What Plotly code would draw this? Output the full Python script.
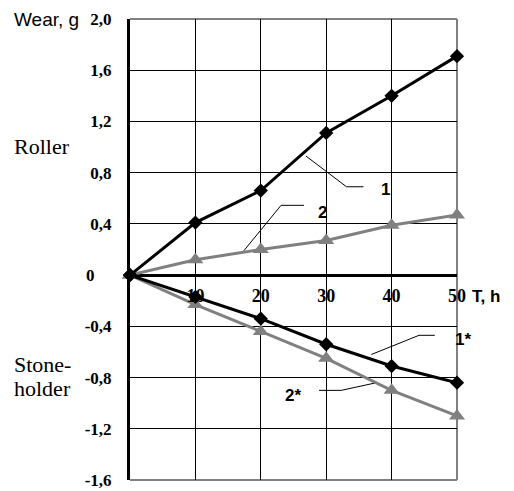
import plotly.graph_objects as go

# ---- data ----
time_h = [0, 10, 20, 30, 40, 50]
roller_1 = [0, 0.41, 0.66, 1.11, 1.40, 1.71]
roller_2 = [0, 0.12, 0.20, 0.27, 0.39, 0.47]
stone_1s = [0, -0.17, -0.34, -0.54, -0.71, -0.84]
stone_2s = [0, -0.23, -0.44, -0.65, -0.90, -1.10]

x_ticks = [10, 20, 30, 40, 50]
x_ticktext = ["10", "20", "30", "40", "50"]
y_ticks = [-1.6, -1.2, -0.8, -0.4, 0, 0.4, 0.8, 1.2, 1.6, 2.0]
y_ticktext = ["-1,6", "-1,2", "-0,8", "-0,4", "0\u00a0\u00a0\u00a0\u00a0", "0,4", "0,8", "1,2", "1,6", "2,0"]

# leader lines for curve labels (label anchor geometry)
leader_1 = ([26.9, 33.1, 35.7], [0.93, 0.69, 0.69])
leader_2 = ([17.4, 23.1, 26.6], [0.19, 0.545, 0.545])
leader_1s = ([36.9, 44.2, 46.6], [-0.62, -0.47, -0.47])
leader_2s = ([37.7, 32.3, 28.9], [-0.84, -0.90, -0.90])

BLACK = "#000000"
GRAY = "#808080"
SERIF = "Liberation Serif, Times New Roman, serif"
SANS = "Liberation Sans, Arial, sans-serif"

fig = go.Figure()

for lx, ly in [leader_1, leader_2, leader_1s, leader_2s]:
    fig.add_trace(go.Scatter(x=lx, y=ly, mode="lines", line=dict(color=BLACK, width=1),
                             hoverinfo="skip", showlegend=False, cliponaxis=False))

fig.add_trace(go.Scatter(x=time_h, y=roller_2, mode="lines+markers",
                         line=dict(color=GRAY, width=3), cliponaxis=False,
                         marker=dict(symbol="triangle-up", size=14, color=GRAY), showlegend=False))
fig.add_trace(go.Scatter(x=time_h, y=stone_2s, mode="lines+markers",
                         line=dict(color=GRAY, width=3), cliponaxis=False,
                         marker=dict(symbol="triangle-up", size=14, color=GRAY), showlegend=False))
fig.add_trace(go.Scatter(x=time_h, y=roller_1, mode="lines+markers",
                         line=dict(color=BLACK, width=3), cliponaxis=False,
                         marker=dict(symbol="diamond", size=11, color=BLACK), showlegend=False))
fig.add_trace(go.Scatter(x=time_h, y=stone_1s, mode="lines+markers",
                         line=dict(color=BLACK, width=3), cliponaxis=False,
                         marker=dict(symbol="diamond", size=11, color=BLACK), showlegend=False))

serif_b = dict(family=SERIF, size=17, color=BLACK, weight="bold")
sans_b = dict(family=SANS, size=17, color=BLACK, weight="bold")

fig.update_xaxes(range=[0, 50], tickvals=x_ticks, ticktext=["<b>%s</b>" % t for t in x_ticktext],
                 showgrid=True, gridcolor=BLACK, gridwidth=1,
                 zeroline=False, showline=False, ticks="", automargin=False,
                 anchor="free", position=1.6 / 3.6, ticklabelstandoff=8,
                 tickfont=dict(family=SERIF, size=18, color=BLACK, weight="bold"))
fig.update_yaxes(range=[-1.6, 2.0], tickvals=y_ticks, ticktext=["<b>%s</b>" % t for t in y_ticktext],
                 showgrid=True, gridcolor=BLACK, gridwidth=1,
                 zeroline=True, zerolinecolor=BLACK, zerolinewidth=3,
                 showline=True, linecolor=BLACK, linewidth=3, automargin=False,
                 ticks="", ticklabelstandoff=12, tickfont=serif_b)

# gray frame on top / right / bottom
for x0, y0, x1, y1 in [(0, 1, 1, 1), (1, 0, 1, 1), (0, 0, 1, 0)]:
    fig.add_shape(type="line", xref="paper", yref="paper", x0=x0, y0=y0, x1=x1, y1=y1,
                  line=dict(color=GRAY, width=2), layer="between")

PW = 327.0
PH = 461.0
def px(xp):
    return (xp - 130) / PW
def py(yp):
    return (480 - yp) / PH

ann = []
ann.append(dict(text="Wear, g", xref="paper", yref="paper", x=px(12), y=py(19),
                xanchor="left", yanchor="middle", showarrow=False,
                font=dict(family=SANS, size=19, color=BLACK)))
ann.append(dict(text="Roller", xref="paper", yref="paper", x=px(12), y=py(146),
                xanchor="left", yanchor="middle", showarrow=False,
                font=dict(family=SERIF, size=22, color=BLACK)))
ann.append(dict(text="Stone-", xref="paper", yref="paper", x=px(12), y=py(364),
                xanchor="left", yanchor="middle", showarrow=False,
                font=dict(family=SERIF, size=22, color=BLACK)))
ann.append(dict(text="holder", xref="paper", yref="paper", x=px(12), y=py(388),
                xanchor="left", yanchor="middle", showarrow=False,
                font=dict(family=SERIF, size=22, color=BLACK)))
ann.append(dict(text="<b>T, h</b>", xref="paper", yref="paper", x=px(470), y=py(296),
                xanchor="left", yanchor="middle", showarrow=False, font=sans_b))
for txt, xp, yp in [("1", 385, 190), ("2", 322, 212), ("1*", 463, 339), ("2*", 293, 395)]:
    ann.append(dict(text="<b>%s</b>" % txt, xref="paper", yref="paper", x=px(xp), y=py(yp),
                    xanchor="center", yanchor="middle", showarrow=False, font=sans_b))

# page body has an 8px margin; shrink figure so plot area lands at the reference pixels
fig.update_layout(width=506, height=483, margin=dict(l=122, r=57, t=11, b=11),
                  paper_bgcolor="white", plot_bgcolor="white", annotations=ann)

fig.write_html("out.html")
